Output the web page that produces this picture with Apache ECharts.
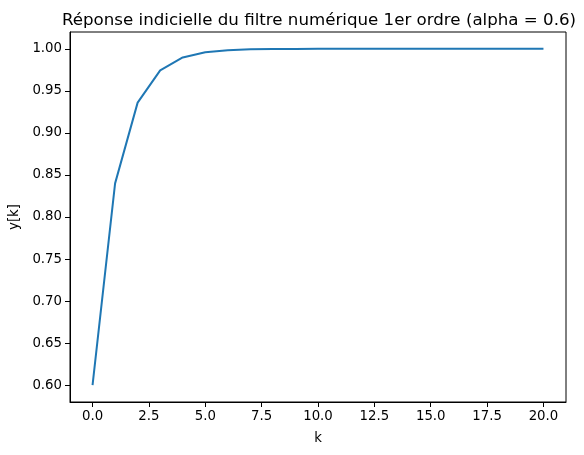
<!DOCTYPE html>
<html>
<head>
<meta charset="utf-8">
<script src="https://cdn.jsdelivr.net/npm/echarts@6/dist/echarts.min.js"></script>
<style>html,body{margin:0;padding:0;background:#fff}#c{width:584px;height:455px}</style>
</head>
<body>
<div id="c"></div>
<script>
const kValues = [0,1,2,3,4,5,6,7,8,9,10,11,12,13,14,15,16,17,18,19,20];
const yValues = [0.6, 0.84, 0.936, 0.9744, 0.98976, 0.9959, 0.99836, 0.99934, 0.99974, 0.9999, 0.99996, 0.99998, 0.99999, 1.0, 1.0, 1.0, 1.0, 1.0, 1.0, 1.0, 1.0];
const xTicks = [0, 2.5, 5, 7.5, 10, 12.5, 15, 17.5, 20];
const yTicks = [0.6, 0.65, 0.7, 0.75, 0.8, 0.85, 0.9, 0.95, 1.0];
const titleText = 'Réponse indicielle du filtre numérique 1er ordre (alpha = 0.6)';

const font = 'DejaVu Sans';
const chart = echarts.init(document.getElementById('c'), null, {renderer: 'canvas'});
chart.setOption({
  animation: false,
  backgroundColor: '#fff',
  title: {
    text: titleText,
    left: 314, top: 7, textAlign: 'center',
    textStyle: {fontFamily: font, fontSize: 16.67, fontWeight: 'normal', color: '#000'}
  },
  grid: {left: 70, right: 18, top: 32, bottom: 53, show: true, borderColor: '#000', borderWidth: 1, containLabel: false},
  xAxis: {
    type: 'value', min: -1, max: 21,
    name: 'k', nameLocation: 'middle', nameGap: 30,
    nameTextStyle: {fontFamily: font, fontSize: 13.3, color: '#000'},
    axisLine: {show: true, onZero: false, lineStyle: {color: '#000', width: 1}},
    axisTick: {show: true, length: 5, lineStyle: {color: '#000'}, customValues: xTicks},
    axisLabel: {fontFamily: font, fontSize: 13.3, color: '#000', margin: 8, customValues: xTicks, formatter: v => v.toFixed(1)},
    splitLine: {show: false}
  },
  yAxis: {
    type: 'value', min: 0.58, max: 1.02,
    name: 'y[k]', nameLocation: 'middle', nameGap: 48, nameRotate: 90,
    nameTextStyle: {fontFamily: font, fontSize: 13.3, color: '#000'},
    axisLine: {show: true, onZero: false, lineStyle: {color: '#000', width: 1}},
    axisTick: {show: true, length: 5, lineStyle: {color: '#000'}, customValues: yTicks},
    axisLabel: {fontFamily: font, fontSize: 13.3, color: '#000', margin: 8, customValues: yTicks, formatter: v => v.toFixed(2)},
    splitLine: {show: false}
  },
  series: [{
    type: 'line',
    data: kValues.map((k, i) => [k, yValues[i]]),
    showSymbol: false,
    lineStyle: {color: '#1f77b4', width: 2},
    itemStyle: {color: '#1f77b4'}
  }]
});
</script>
</body>
</html>
